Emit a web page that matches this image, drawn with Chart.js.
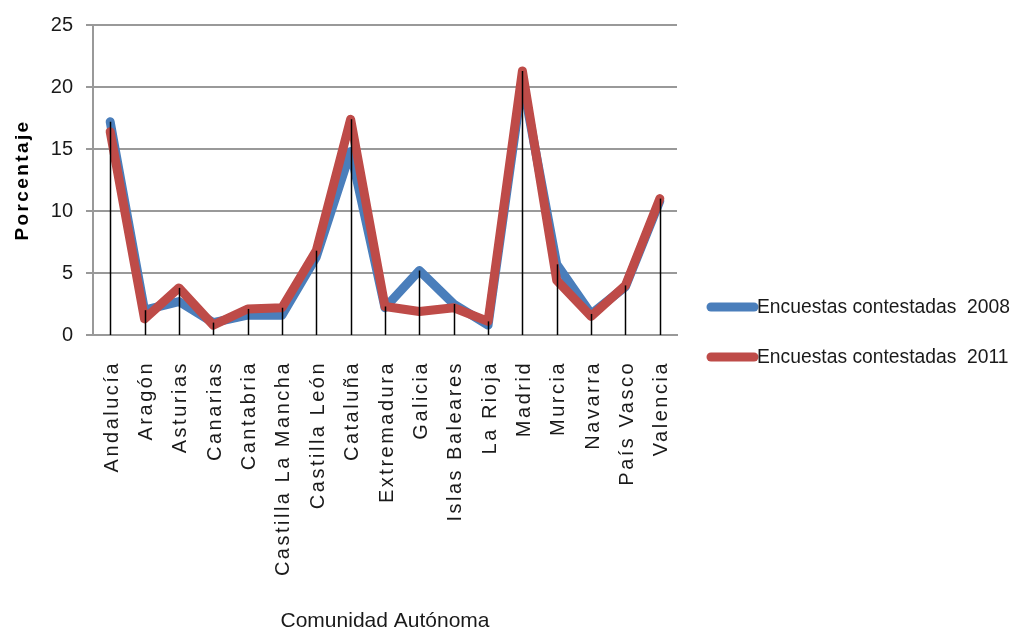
<!DOCTYPE html>
<html lang="es">
<head>
<meta charset="utf-8">
<title>Encuestas contestadas por Comunidad Autónoma</title>
<script src="https://cdn.jsdelivr.net/npm/chart.js@4.4.1/dist/chart.umd.min.js"></script>
<style>
  html, body { margin: 0; padding: 0; background: #ffffff; }
  canvas { display: block; }
</style>
</head>
<body>
<canvas id="chart" width="1014" height="631"></canvas>
<script>
// Comunidades autónomas (eje X)
const categories = [
  'Andalucía', 'Aragón', 'Asturias', 'Canarias', 'Cantabria',
  'Castilla La Mancha', 'Castilla León', 'Cataluña', 'Extremadura',
  'Galicia', 'Islas Baleares', 'La Rioja', 'Madrid', 'Murcia',
  'Navarra', 'País Vasco', 'Valencia'
];

// Porcentaje de encuestas contestadas
const values2008 = [17.2, 2.0, 2.7, 1.0, 1.6, 1.6, 6.3, 14.8, 2.2, 5.2, 2.5, 0.8, 20.5, 5.7, 1.7, 3.9, 10.8];
const values2011 = [16.4, 1.3, 3.8, 0.8, 2.1, 2.2, 6.8, 17.4, 2.3, 1.9, 2.2, 1.1, 21.3, 4.4, 1.5, 4.0, 11.0];

const seriesNames = ['Encuestas contestadas  2008', 'Encuestas contestadas  2011'];
const yTicks = [0, 5, 10, 15, 20, 25];
const xTitle = 'Comunidad Autónoma';
const yTitle = 'Porcentaje';

const BLUE = '#4a7ebb';
const RED = '#be4b48';
const GRID = '#999999';
const TEXT = '#1a1a1a';
const FONT = '"Liberation Sans", Arial, sans-serif';

// Vertical drop lines from the highest point of each category down to zero
const dropLines = {
  id: 'dropLines',
  afterDatasetsDraw(chart) {
    const { ctx, scales: { x, y } } = chart;
    ctx.save();
    ctx.strokeStyle = '#000000';
    ctx.lineWidth = 1.5;
    categories.forEach((c, i) => {
      const top = Math.max(values2008[i], values2011[i]);
      const px = Math.round(x.getPixelForValue(i)) + 0.5;
      ctx.beginPath();
      ctx.moveTo(px, y.getPixelForValue(top));
      ctx.lineTo(px, y.getPixelForValue(0));
      ctx.stroke();
    });
    ctx.restore();
  }
};

// Rotated category labels, Y axis title and legend
const textLayer = {
  id: 'textLayer',
  afterDraw(chart) {
    const { ctx, scales: { x }, chartArea } = chart;

    // Category labels, reading bottom-to-top, top-aligned under the axis
    ctx.save();
    ctx.fillStyle = TEXT;
    ctx.font = '20px ' + FONT;
    ctx.letterSpacing = '2.5px';
    ctx.textAlign = 'right';
    ctx.textBaseline = 'middle';
    categories.forEach((label, i) => {
      ctx.save();
      ctx.translate(x.getPixelForValue(i) + 2, x.top + 26);
      ctx.rotate(-Math.PI / 2);
      ctx.fillText(label, 0, 0);
      ctx.restore();
    });
    ctx.restore();

    // Y axis title
    ctx.save();
    ctx.fillStyle = '#000000';
    ctx.font = 'bold 19px ' + FONT;
    ctx.letterSpacing = '2.4px';
    ctx.textAlign = 'center';
    ctx.textBaseline = 'middle';
    ctx.translate(23, (chartArea.top + chartArea.bottom) / 2);
    ctx.rotate(-Math.PI / 2);
    ctx.fillText(yTitle, 0, 0);
    ctx.restore();

    // Legend
    ctx.save();
    ctx.font = '19.3px ' + FONT;
    ctx.textAlign = 'left';
    ctx.textBaseline = 'middle';
    chart.data.datasets.forEach((ds, i) => {
      const ly = 307 + i * 50;
      ctx.strokeStyle = ds.borderColor;
      ctx.lineWidth = 9;
      ctx.lineCap = 'round';
      ctx.beginPath();
      ctx.moveTo(711, ly);
      ctx.lineTo(754, ly);
      ctx.stroke();
      ctx.fillStyle = TEXT;
      ctx.fillText(ds.label, 757, ly + 1);
    });
    ctx.restore();
  }
};

new Chart(document.getElementById('chart'), {
  type: 'line',
  data: {
    labels: categories,
    datasets: [
      {
        label: seriesNames[0],
        data: values2008,
        borderColor: BLUE,
        backgroundColor: BLUE,
        borderWidth: 9,
        order: 2
      },
      {
        label: seriesNames[1],
        data: values2011,
        borderColor: RED,
        backgroundColor: RED,
        borderWidth: 9,
        order: 1
      }
    ]
  },
  options: {
    responsive: false,
    animation: false,
    events: [],
    layout: { padding: { top: 20, right: 337, left: 0, bottom: 0 } },
    elements: {
      line: { tension: 0, borderCapStyle: 'round', borderJoinStyle: 'round', fill: false },
      point: { radius: 0, hoverRadius: 0 }
    },
    plugins: {
      legend: { display: false },
      tooltip: { enabled: false },
      title: { display: false }
    },
    scales: {
      x: {
        type: 'category',
        offset: true,
        afterFit(scale) { scale.height = 296; },
        grid: { display: false, drawTicks: false },
        border: { display: true, color: GRID, width: 2 },
        ticks: { display: false },
        title: {
          display: true,
          text: xTitle,
          color: TEXT,
          font: { family: FONT, size: 21 },
          padding: { top: 0, bottom: -3 }
        }
      },
      y: {
        min: 0,
        max: 25,
        afterFit(scale) { scale.width = 93; },
        afterBuildTicks(scale) { scale.ticks = yTicks.map(v => ({ value: v })); },
        grid: { color: GRID, lineWidth: 2, tickLength: 7, drawTicks: true },
        border: { display: true, color: GRID, width: 2 },
        ticks: {
          color: TEXT,
          padding: 13,
          font: { family: FONT, size: 20 }
        },
        title: { display: false }
      }
    }
  },
  plugins: [dropLines, textLayer]
});
</script>
</body>
</html>
